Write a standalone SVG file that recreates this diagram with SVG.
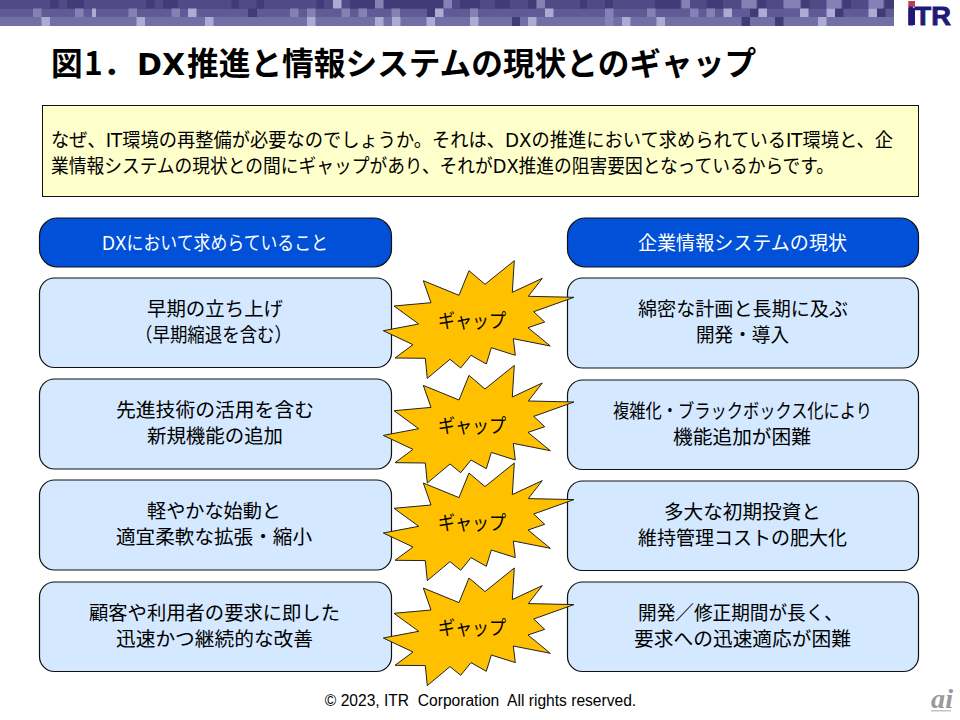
<svg xmlns="http://www.w3.org/2000/svg" width="960" height="720" viewBox="0 0 960 720">
<style>
.jp{font-family:"DejaVu Sans","Noto Sans CJK JP",sans-serif;fill:#000;font-size:19.5px}
.h{fill:#fff}
.box{fill:#d4e8ff;stroke:#111;stroke-width:1.2}
.head{fill:#0050d8;stroke:#111;stroke-width:1.2}
.burst{fill:#ffc000;stroke:#222;stroke-width:1;stroke-linejoin:miter}
.d{fill:#413c78}.m{fill:#8581b5}.l{fill:#aeaad3}
</style>
<defs>
<polygon id="star" points="394,306 431,302.7 423.3,280.7 459,295.3 469,270.7 485,284.3 514.3,260.7 512.3,292.3 542.3,278.3 528.3,296.3 574,297.3 533.7,311.7 544.7,322 528,327.7 550.3,346 513.3,338.7 515.3,355.3 491.3,347.7 486.3,364 471,355.3 460.7,368 450,359.3 427.3,378.3 425.3,358.3 395,358 413,344.7 383.3,330.7 418.7,324"/>
</defs>
<g id="banner">
<rect x="0" y="0" width="894" height="9" fill="#504b86"/>
<rect x="0" y="9" width="894" height="8" fill="#605b96"/>
<rect x="0" y="17" width="894" height="9" fill="#726ea6"/>
<path class="d" d="M50 0h8.500v8.500h-8.500zM67 0h17v8.500h-17zM146 0h8.500v8.500h-8.500zM163 0h15v8.500h-15zM231.500 0h7.500v8.500h-7.500zM256.500 0h7.500v8.500h-7.500zM316.500 0h7.500v8.500h-7.500zM350 0h25v8.500h-25zM383.500 0h60v8.500h-60zM460 0h20v8.500h-20zM495 0h15v8.500h-15zM528 0h8.500v8.500h-8.500zM580 0h7v8.500h-7zM605 0h8v8.500h-8zM655 0h25v8.500h-25zM706.500 0h16.500v8.500h-16.500zM758 0h8.500v8.500h-8.500zM801.500 0h8v8.500h-8zM843 0h8v8.500h-8zM885 0h9v8.500h-9zM248 8.500h9v8.500h-9zM427 8.500h8.500v8.500h-8.500zM750 8.500h8.500v8.500h-8.500zM835 8.500h8.500v8.500h-8.500zM877 8.500h8.500v8.500h-8.500zM512 17h8v9h-8zM741.500 17h8.500v9h-8.500zM775 17h8.500v9h-8.500z"/>
<path class="m" d="M375 0h8.500v8.500h-8.500zM443.500 0h8.500v8.500h-8.500zM536.500 0h8.500v8.500h-8.500zM681.500 0h8.500v8.500h-8.500zM741.500 0h15v8.500h-15zM783.500 0h17v8.500h-17zM826.500 0h15v8.500h-15zM868.500 0h15v8.500h-15zM33 8.500h8.500v8.500h-8.500zM75 8.500h8.500v8.500h-8.500zM128.500 8.500h8.500v8.500h-8.500zM171.500 8.500h8.500v8.500h-8.500zM290 8.500h8.500v8.500h-8.500zM307 8.500h8.500v8.500h-8.500zM341.500 8.500h8.500v8.500h-8.500zM358.500 8.500h8.500v8.500h-8.500zM391.500 8.500h8.500v8.500h-8.500zM470 8.500h8v8.500h-8zM605 8.500h8.500v8.500h-8.500zM647 8.500h8.500v8.500h-8.500zM690 8.500h8.500v8.500h-8.500zM706.500 8.500h8.500v8.500h-8.500zM605 17h8.500v9h-8.500z"/>
<path class="l" d="M333 0h8.500v8.500h-8.500zM188 8.500h8.500v8.500h-8.500zM92 8.500h4v8.500h-4zM435 8.500h8.500v8.500h-8.500zM545 8.500h8.500v8.500h-8.500zM723.500 8.500h8.500v8.500h-8.500zM758.500 8.500h8.500v8.500h-8.500zM800 8.500h8.500v8.500h-8.500zM826.500 8.500h8.500v8.500h-8.500zM868.500 8.500h8.500v8.500h-8.500zM41.500 17h8.500v9h-8.500zM136.500 17h8.500v9h-8.500zM205 17h8.500v9h-8.500zM307 17h8.500v9h-8.500zM375 17h8.500v9h-8.500zM392 17h8.500v9h-8.500zM426.500 17h8.500v9h-8.500zM470 17h8.500v9h-8.500zM528 17h8.500v9h-8.500zM622 17h8.500v9h-8.500zM656.500 17h8.500v9h-8.500zM818 17h8.500v9h-8.500z"/>
</g>
<g id="logo">
<text x="907" y="25" font-family="'Liberation Sans',sans-serif" font-weight="700" font-size="25" fill="#1f1a78" stroke="#1f1a78" stroke-width="0.8" textLength="44" lengthAdjust="spacingAndGlyphs">iTR</text>
<rect x="908.300" y="1" width="6.700" height="5.700" fill="#b5404f"/>
<rect x="908.300" y="8" width="6.700" height="17" fill="#1f1a78"/>
</g>
<text id="title" class="jp" y="75" style="font-size:31.700px;font-weight:700"><tspan x="51">図</tspan><tspan x="84" style="font-family:'Noto Sans CJK JP',sans-serif">1</tspan><tspan x="103">．</tspan><tspan x="137" style="font-size:30px">DX</tspan><tspan x="187">推進と情報システムの現状とのギャップ</tspan></text>
<g id="intro">
<rect x="42.500" y="105.500" width="876" height="91" fill="#ffffcc" stroke="#111" stroke-width="1"/>
<text class="jp" x="51" y="147" textLength="842" lengthAdjust="spacingAndGlyphs">なぜ、IT環境の再整備が必要なのでしょうか。それは、DXの推進において求められているIT環境と、企</text>
<text class="jp" x="51" y="172.500" textLength="783" lengthAdjust="spacingAndGlyphs">業情報システムの現状との間にギャップがあり、それがDX推進の阻害要因となっているからです。</text>
</g>
<g id="head-left"><rect class="head" x="39.500" y="218" width="352" height="49" rx="18"/><text class="jp h" x="102" y="249.500" textLength="226" lengthAdjust="spacingAndGlyphs">DXにおいて求めらていること</text></g>
<g id="head-right"><rect class="head" x="567.500" y="218" width="351" height="49" rx="18"/><text class="jp h" x="638" y="249.500" textLength="209" lengthAdjust="spacingAndGlyphs">企業情報システムの現状</text></g>
<g id="left-1"><rect class="box" x="39.500" y="278" width="352" height="89.500" rx="15"/><text class="jp" x="147" y="316" textLength="136" lengthAdjust="spacingAndGlyphs">早期の立ち上げ</text><text class="jp" x="135" y="342" textLength="157" lengthAdjust="spacingAndGlyphs">（早期縮退を含む）</text></g>
<g id="left-2"><rect class="box" x="39.500" y="379" width="352" height="90" rx="15"/><text class="jp" x="116" y="417" textLength="198" lengthAdjust="spacingAndGlyphs">先進技術の活用を含む</text><text class="jp" x="147" y="443" textLength="136" lengthAdjust="spacingAndGlyphs">新規機能の追加</text></g>
<g id="left-3"><rect class="box" x="39.500" y="480" width="352" height="90" rx="15"/><text class="jp" x="147" y="518" textLength="134" lengthAdjust="spacingAndGlyphs">軽やかな始動と</text><text class="jp" x="116" y="544" textLength="196" lengthAdjust="spacingAndGlyphs">適宜柔軟な拡張・縮小</text></g>
<g id="left-4"><rect class="box" x="39.500" y="582" width="352" height="89.500" rx="15"/><text class="jp" x="89" y="620" textLength="251" lengthAdjust="spacingAndGlyphs">顧客や利用者の要求に即した</text><text class="jp" x="116" y="646" textLength="197" lengthAdjust="spacingAndGlyphs">迅速かつ継続的な改善</text></g>
<g id="right-1"><rect class="box" x="567.500" y="278" width="351" height="90" rx="15"/><text class="jp" x="638" y="316" textLength="210" lengthAdjust="spacingAndGlyphs">綿密な計画と長期に及ぶ</text><text class="jp" x="696" y="342" textLength="93" lengthAdjust="spacingAndGlyphs">開発・導入</text></g>
<g id="right-2"><rect class="box" x="567.500" y="380" width="351" height="89.500" rx="15"/><text class="jp" x="613" y="418" textLength="259" lengthAdjust="spacingAndGlyphs">複雑化・ブラックボックス化により</text><text class="jp" x="673" y="444" textLength="138" lengthAdjust="spacingAndGlyphs">機能追加が困難</text></g>
<g id="right-3"><rect class="box" x="567.500" y="481" width="351" height="89.500" rx="15"/><text class="jp" x="664" y="519" textLength="157" lengthAdjust="spacingAndGlyphs">多大な初期投資と</text><text class="jp" x="638" y="545" textLength="209" lengthAdjust="spacingAndGlyphs">維持管理コストの肥大化</text></g>
<g id="right-4"><rect class="box" x="567.500" y="582" width="351" height="89.500" rx="15"/><text class="jp" x="638" y="620" textLength="205" lengthAdjust="spacingAndGlyphs">開発／修正期間が長く、</text><text class="jp" x="634" y="646" textLength="217" lengthAdjust="spacingAndGlyphs">要求への迅速適応が困難</text></g>
<g id="gap-1"><use href="#star" class="burst"/><text class="jp" x="438" y="328" textLength="68" lengthAdjust="spacingAndGlyphs">ギャップ</text></g>
<g id="gap-2"><use href="#star" class="burst" y="104.700"/><text class="jp" x="438" y="432.500" textLength="68" lengthAdjust="spacingAndGlyphs">ギャップ</text></g>
<g id="gap-3"><use href="#star" class="burst" y="202.300"/><text class="jp" x="438" y="530" textLength="68" lengthAdjust="spacingAndGlyphs">ギャップ</text></g>
<g id="gap-4"><use href="#star" class="burst" y="307.300"/><text class="jp" x="438" y="635" textLength="68" lengthAdjust="spacingAndGlyphs">ギャップ</text></g>
<text id="copyright" x="480.500" y="706" text-anchor="middle" font-family="'Liberation Sans',sans-serif" font-size="15.600" fill="#000" xml:space="preserve">© 2023, ITR  Corporation  All rights reserved.</text>
<g id="ai-mark">
<text x="931" y="708" font-family="'Liberation Serif',serif" font-style="italic" font-weight="700" font-size="27" fill="#9a9a9a" textLength="22" lengthAdjust="spacingAndGlyphs">ai</text>
<rect x="931" y="710" width="20" height="1.500" fill="#c4c4c4"/>
</g>
</svg>
